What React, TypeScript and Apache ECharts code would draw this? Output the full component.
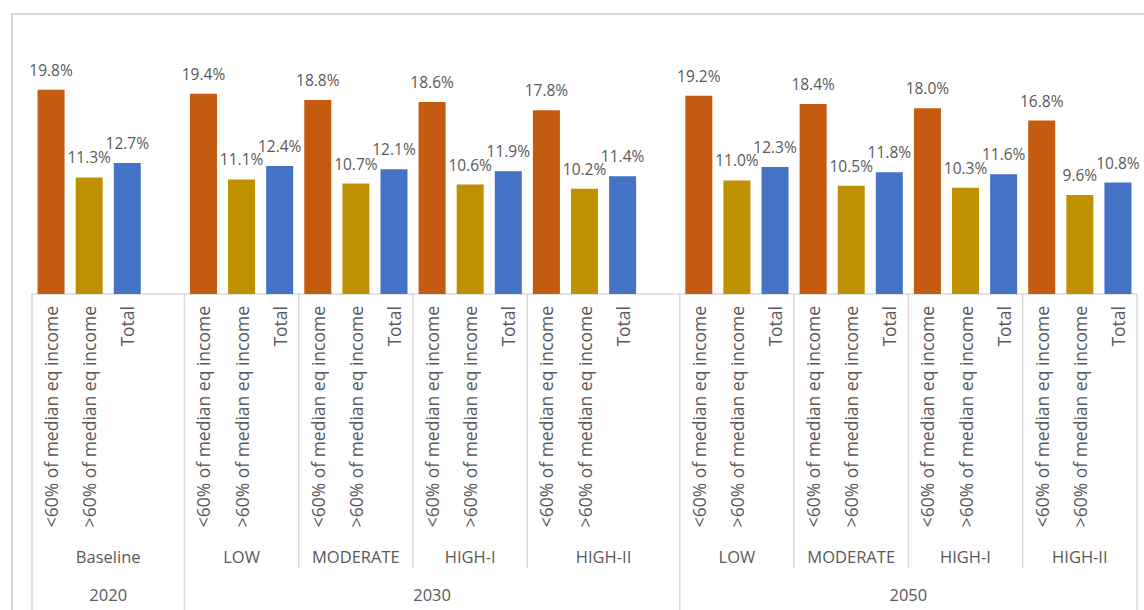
import React, { useEffect, useRef } from "react";
import * as echarts from "echarts";

const scenarios = ["Baseline", "LOW", "MODERATE", "HIGH-I", "HIGH-II", "LOW", "MODERATE", "HIGH-I", "HIGH-II"];
const scenarioYears = ["2020", "2030", "2030", "2030", "2030", "2050", "2050", "2050", "2050"];
const incomeTypes = ["<60% of median eq income", ">60% of median eq income", "Total"];
const below60 = [19.8, 19.4, 18.8, 18.6, 17.8, 19.2, 18.4, 18.0, 16.8];
const above60 = [11.3, 11.1, 10.7, 10.6, 10.2, 11.0, 10.5, 10.3, 9.6];
const totals = [12.7, 12.4, 12.1, 11.9, 11.4, 12.3, 11.8, 11.6, 10.8];
const barColors = ["#C55A11", "#BF9000", "#4472C4"];

const FONT = "'Open Sans', sans-serif";
const TEXT_COLOR = "#595959";
const LINE_COLOR = "#D9D9D9";

type Cat = { label: string; value: number | null; color: string; scenario: number };

function buildCategories(): Cat[] {
  const cats: Cat[] = [];
  for (let s = 0; s < scenarios.length; s++) {
    const vals = [below60[s], above60[s], totals[s]];
    for (let k = 0; k < 3; k++) {
      cats.push({ label: incomeTypes[k], value: vals[k], color: barColors[k], scenario: s });
    }
    const lastOfYear = s === scenarios.length - 1 || scenarioYears[s + 1] !== scenarioYears[s];
    if (lastOfYear && s !== scenarios.length - 1) {
      cats.push({ label: "", value: null, color: "#fff", scenario: s });
    }
  }
  return cats;
}

export default function App() {
  const ref = useRef<HTMLDivElement>(null);

  useEffect(() => {
    document.body.style.margin = "0";
    if (!ref.current) return;
    const chart = echarts.init(ref.current, null, { renderer: "svg" });
    const cats = buildCategories();

    chart.setOption({
      animation: false,
      backgroundColor: "#ffffff",
      grid: { left: 32, right: 7, top: 36, bottom: 316, containLabel: false },
      xAxis: {
        type: "category",
        data: cats.map((c) => c.label),
        axisLine: { show: true, lineStyle: { color: LINE_COLOR, width: 1.5 } },
        axisTick: { show: false },
        axisLabel: {
          interval: 0,
          rotate: 90,
          margin: 12,
          color: TEXT_COLOR,
          fontFamily: FONT,
          fontSize: 17.5,
        },
      },
      yAxis: {
        type: "value",
        min: 0,
        max: 25,
        show: false,
        splitLine: { show: false },
      },
      series: [
        {
          type: "bar",
          barWidth: 27,
          data: cats.map((c) =>
            c.value === null
              ? "-"
              : { value: c.value, itemStyle: { color: c.color } }
          ),
          label: {
            show: true,
            position: "top",
            distance: 12,
            color: TEXT_COLOR,
            fontFamily: FONT,
            fontSize: 15.5,
            formatter: (p: any) => (typeof p.value === "number" ? p.value.toFixed(1) + "%" : ""),
          },
        },
      ],
    });

    // Multi-level category axis decorations
    const px = (i: number) => chart.convertToPixel({ xAxisIndex: 0 }, i) as number;
    const band = px(1) - px(0);
    const edge = (i: number) => px(0) + (i - 0.5) * band;
    const axisY = chart.convertToPixel({ yAxisIndex: 0 }, 0) as number;
    const lvl2Bottom = 568;
    const lvl3Bottom = 612;

    // group ranges
    const scenStart: number[] = [];
    const scenEnd: number[] = [];
    cats.forEach((c, i) => {
      if (scenStart[c.scenario] === undefined) scenStart[c.scenario] = i;
      scenEnd[c.scenario] = i + 1;
    });
    const years: { name: string; start: number; end: number }[] = [];
    scenarios.forEach((_, s) => {
      const y = scenarioYears[s];
      const last = years[years.length - 1];
      if (last && last.name === y) last.end = scenEnd[s];
      else years.push({ name: y, start: scenStart[s], end: scenEnd[s] });
    });

    const graphics: any[] = [];
    graphics.push({
      type: "rect",
      shape: { x: 12, y: 14, width: 1200, height: 700 },
      style: { fill: "none", stroke: LINE_COLOR, lineWidth: 2 },
      silent: true,
      z: 0,
    });
    const yearEdges = new Set<number>();
    years.forEach((y) => {
      yearEdges.add(y.start);
      yearEdges.add(y.end);
    });
    scenarios.forEach((name, s) => {
      const x0 = edge(scenStart[s]);
      const x1 = edge(scenEnd[s]);
      if (!yearEdges.has(scenStart[s])) {
        graphics.push({
          type: "line",
          shape: { x1: x0, y1: axisY, x2: x0, y2: lvl2Bottom },
          style: { stroke: LINE_COLOR, lineWidth: 1.5 },
          silent: true,
        });
      }
      graphics.push({
        type: "text",
        style: {
          text: name,
          x: (x0 + x1) / 2,
          y: 556,
          fill: TEXT_COLOR,
          font: `16.5px ${FONT}`,
          align: "center",
          verticalAlign: "middle",
          textAlign: "center",
          textVerticalAlign: "middle",
        },
        silent: true,
      });
    });
    yearEdges.forEach((i) => {
      const x = edge(i);
      graphics.push({
        type: "line",
        shape: { x1: x, y1: axisY, x2: x, y2: lvl3Bottom },
        style: { stroke: LINE_COLOR, lineWidth: 1.5 },
        silent: true,
      });
    });
    years.forEach((y) => {
      graphics.push({
        type: "text",
        style: {
          text: y.name,
          x: (edge(y.start) + edge(y.end)) / 2,
          y: 594,
          fill: TEXT_COLOR,
          font: `16.5px ${FONT}`,
          align: "center",
          verticalAlign: "middle",
          textAlign: "center",
          textVerticalAlign: "middle",
        },
        silent: true,
      });
    });

    chart.setOption({ graphic: graphics });

    return () => chart.dispose();
  }, []);

  return <div ref={ref} style={{ width: 1144, height: 610 }} />;
}
